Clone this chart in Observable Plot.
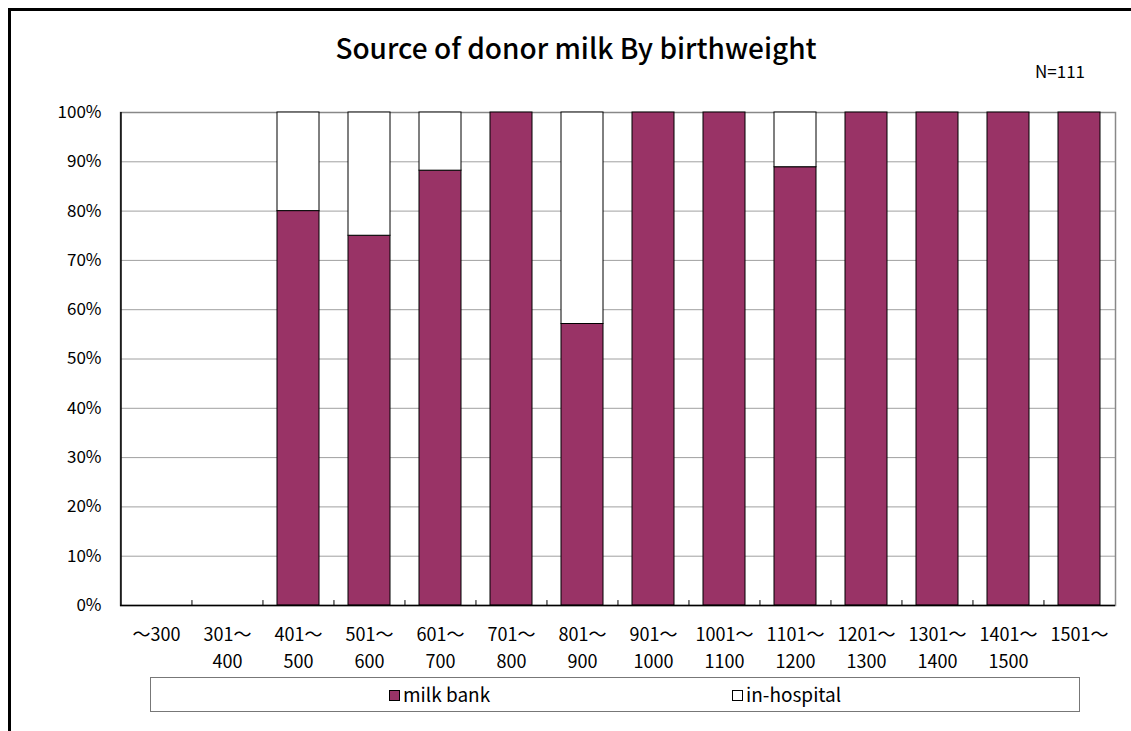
<!DOCTYPE html>
<html>
<head>
<meta charset="utf-8">
<script src="https://cdn.jsdelivr.net/npm/d3@7"></script>
<script src="https://cdn.jsdelivr.net/npm/@observablehq/plot@0.6"></script>
<style>
  html, body { margin: 0; padding: 0; background: #fff; overflow: hidden; }
  #wrap { position: relative; width: 1131px; height: 731px; font-family: "Noto Sans CJK JP", "Noto Sans", sans-serif; color: #000; }
  #frame { position: absolute; left: 8px; top: 8px; width: 1200px; height: 800px; border: 3px solid #000; box-sizing: border-box; }
  #title { position: absolute; left: 0; width: 1152px; top: 27px; text-align: center; font-size: 28px; font-weight: 500; }
  #n { position: absolute; left: 1035px; top: 58px; font-size: 17px; }
  #chart { position: absolute; left: 0; top: 0; }
  #legend { position: absolute; left: 150px; top: 677px; width: 930px; height: 35px; border: 1px solid #777; box-sizing: border-box; font-size: 19px; }
  .item { position: absolute; top: 4px; line-height: 24px; }
  .sw { display: inline-block; width: 9px; height: 9px; border: 1px solid #000; margin-right: 3px; vertical-align: 1px; }
</style>
</head>
<body>
<div id="wrap">
  <div id="frame"></div>
  <div id="chart"></div>
  <div id="title">Source of donor milk By birthweight</div>
  <div id="n">N=111</div>
  <div id="legend"></div>
</div>
<script>
const categories = ["~300","301-400","401-500","501-600","601-700","701-800","801-900","901-1000","1001-1100","1101-1200","1201-1300","1301-1400","1401-1500","1501-"];
const tickLabels = ["～300","301～\n400","401～\n500","501～\n600","601～\n700","701～\n800","801～\n900","901～\n1000","1001～\n1100","1101～\n1200","1201～\n1300","1301～\n1400","1401～\n1500","1501～"];
const milkBank = [null, null, 80, 75, 88.2, 100, 57.1, 100, 100, 88.9, 100, 100, 100, 100];
const seriesNames = ["milk bank", "in-hospital"];
const seriesColors = ["#993366", "#ffffff"];
const yTicks = [0,10,20,30,40,50,60,70,80,90,100];

const rows = categories.map((c, i) => ({cat: c, milk: milkBank[i], hosp: milkBank[i] == null ? null : 100 - milkBank[i]}))
  .filter(d => d.milk != null);

const W = 1131, H = 731, mL = 120, mR = 16, mT = 112, mB = 126;
const step = (W - mL - mR) / categories.length;

const chart = Plot.plot({
  width: W, height: H,
  marginLeft: mL, marginRight: mR, marginTop: mT, marginBottom: mB,
  style: {fontFamily: '"Noto Sans CJK JP", "Noto Sans", sans-serif', fontSize: "17px", background: "transparent", color: "#000"},
  x: {domain: categories, paddingInner: 0.41, paddingOuter: 0.205, axis: null},
  y: {domain: [0, 100], axis: null},
  marks: [
    Plot.ruleY(yTicks.slice(1), {stroke: "#a0a0a0", strokeWidth: 1}),
    Plot.frame({stroke: "#888", strokeWidth: 1.5}),
    Plot.barY(rows, {x: "cat", y1: 0, y2: "milk", fill: seriesColors[0], stroke: "#000", strokeWidth: 1}),
    Plot.barY(rows.filter(d => d.hosp > 0), {x: "cat", y1: "milk", y2: 100, fill: seriesColors[1], stroke: "#000", strokeWidth: 1}),
    Plot.ruleX([categories[0]], {dx: -step / 2, stroke: "#000", strokeWidth: 1.5}),
    Plot.ruleY([0], {stroke: "#000", strokeWidth: 1.5}),
    Plot.ruleX(categories.slice(1), {y1: 0, y2: 1, dx: -step / 2, stroke: "#000"}),
    Plot.axisY(yTicks, {label: null, tickSize: 0, tickPadding: 19, tickFormat: d => d + "%", fontSize: 17}),
    Plot.text(categories, {x: d => d, text: (d, i) => tickLabels[i], frameAnchor: "bottom", lineAnchor: "top", dy: 16, lineHeight: 1.5, fontSize: 18})
  ]
});
document.getElementById("chart").appendChild(chart);

const legend = document.getElementById("legend");
const lx = [238, 581];
seriesNames.forEach((name, i) => {
  const it = document.createElement("div");
  it.className = "item";
  it.style.left = lx[i] + "px";
  it.innerHTML = `<span class="sw" style="background:${seriesColors[i]}"></span>${name}`;
  legend.appendChild(it);
});
</script>
</body>
</html>
